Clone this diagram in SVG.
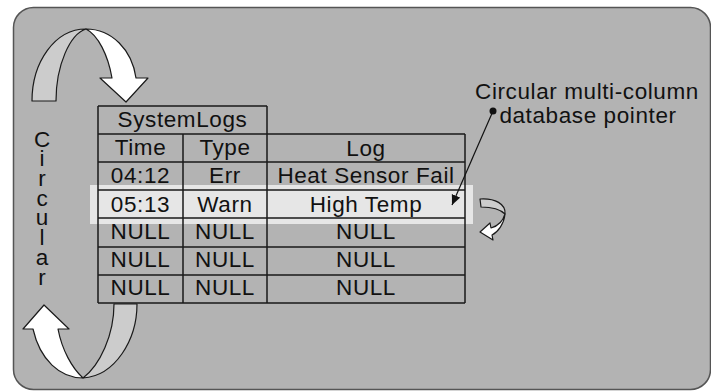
<svg xmlns="http://www.w3.org/2000/svg" width="711" height="391" viewBox="0 0 711 391">
<style>
.t{font-family:"Liberation Sans",Arial,sans-serif;font-size:22.5px;letter-spacing:0.6px;fill:#111;text-anchor:middle}
.v{font-family:"Liberation Sans",Arial,sans-serif;font-size:22.5px;fill:#111;writing-mode:vertical-rl;text-orientation:upright;letter-spacing:-5.3px;text-anchor:middle}
.ln{stroke:#1a1a1a;stroke-width:1.5;fill:none}
.rb{stroke:#1a1a1a;stroke-width:1.2;stroke-linejoin:round}
.g{fill:#cccccc}
.w{fill:#ffffff}
</style>
<defs>
<marker id="ah" markerUnits="userSpaceOnUse" markerWidth="11" markerHeight="10" refX="10" refY="4.5" orient="auto">
<path d="M0,0 L10,4.5 L0,9 z" fill="#111"/>
</marker>
</defs>
<rect width="711" height="391" fill="#ffffff"/>
<g id="panel">
<rect x="13.5" y="7.5" width="697" height="382" rx="20" ry="20" fill="#b3b3b3" stroke="#555" stroke-width="1.5"/>
</g>
<g id="highlight">
<rect x="90" y="185" width="383" height="39" fill="#e6e6e6"/>
</g>
<g id="table">
<path class="ln" d="M98,106 H267 M98,134 H465 M98,162 H465 M98,190 H465 M98,218 H465 M98,247 H465 M98,275 H465 M98,303 H465 M98,106 V303 M183,134 V303 M267,106 V303 M465,134 V303"/>
<text class="t" x="182.5" y="127">SystemLogs</text>
<text class="t" x="140.5" y="155">Time</text>
<text class="t" x="225" y="155">Type</text>
<text class="t" x="366" y="155.5">Log</text>
<text class="t" x="140.5" y="183">04:12</text>
<text class="t" x="225" y="183">Err</text>
<text class="t" x="366" y="183">Heat Sensor Fail</text>
<text class="t" x="140.5" y="212">05:13</text>
<text class="t" x="225" y="212">Warn</text>
<text class="t" x="366" y="212">High Temp</text>
<text class="t" x="140.5" y="239">NULL</text>
<text class="t" x="225" y="239">NULL</text>
<text class="t" x="366" y="239">NULL</text>
<text class="t" x="140.5" y="267">NULL</text>
<text class="t" x="225" y="267">NULL</text>
<text class="t" x="366" y="267">NULL</text>
<text class="t" x="140.5" y="295">NULL</text>
<text class="t" x="225" y="295">NULL</text>
<text class="t" x="366" y="295">NULL</text>
</g>
<g id="circular-label">
<text class="v" x="42" y="205.5">Circular</text>
</g>
<g id="top-arrow">
<path class="rb g" d="M32,101 C32,62 55,29 86,29 C70,34 56,65 56,101 Z"/>
<path class="rb w" d="M86,29 C112,29 132,50 136,78 L148,78 L126,102 L100,78 L112,78 C108,55 98,35 86,29 Z"/>
</g>
<g id="bottom-arrow">
<path class="rb g" d="M114,304 L137,304 C137,340 115,376 83,378 C100,365 114,335 114,304 Z"/>
<path class="rb w" d="M83,378 C60,378 40,360 33,329 L23,329 L44,305 L69,329 L58,329 C62,350 72,368 83,378 Z"/>
</g>
<g id="small-arrow">
<path class="rb g" d="M480,199 C495,198 506,204 505,214 C501,210 492,207 481,207 Z"/>
<path class="rb w" d="M505,214 C504,224 498,232 492,235 L493,240 L480,232 L490,223 L491,228 C498,226 503,221 505,214 Z"/>
</g>
<g id="pointer-label">
<text class="t" x="587" y="99">Circular multi-column</text>
<text class="t" x="588" y="123">database pointer</text>
</g>
<g id="connectors">
<circle cx="493" cy="111" r="3.5" fill="#111"/>
<line x1="493" y1="111" x2="452" y2="205" stroke="#111" stroke-width="1.2" marker-end="url(#ah)"/>
</g>
</svg>
